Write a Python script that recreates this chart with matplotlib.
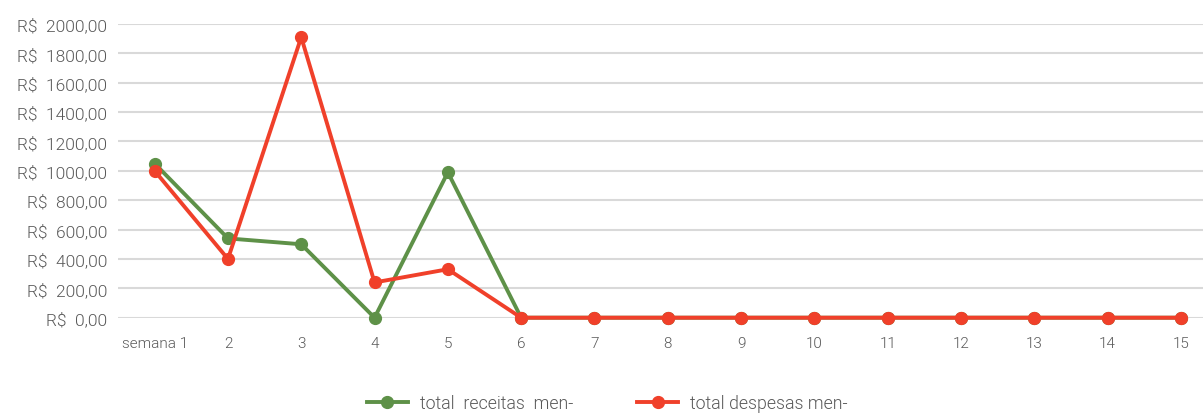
import matplotlib
matplotlib.use("Agg")
import matplotlib.pyplot as plt
from matplotlib.lines import Line2D

# Weekly totals (R$)
weeks = ["semana 1", "2", "3", "4", "5", "6", "7", "8", "9", "10", "11", "12", "13", "14", "15"]
receitas = [1050, 540, 500, 0, 990, 0, 0, 0, 0, 0, 0, 0, 0, 0, 0]
despesas = [1000, 400, 1910, 240, 330, 0, 0, 0, 0, 0, 0, 0, 0, 0, 0]
y_ticks = [0, 200, 400, 600, 800, 1000, 1200, 1400, 1600, 1800, 2000]
series_labels = ["total  receitas  men-", "total despesas men-"]

GREEN = "#5E9148"
RED = "#F0402A"
TEXT = "#595959"
GRID = "#D9D9D9"

plt.rcParams["font.family"] = ["Roboto", "DejaVu Sans"]
plt.rcParams["font.weight"] = 300

W, H = 1203, 414
fig = plt.figure(figsize=(W / 100, H / 100), dpi=100)
left = 118 / W
bottom = (H - 318.7) / H
top = (H - 25) / H
width = 15 * 73.3 / W
ax = fig.add_axes([left, bottom, width, top - bottom])

x = list(range(len(weeks)))
ax.plot(x, receitas, color=GREEN, lw=2.8, marker="o", ms=8.5,
        solid_joinstyle="round", clip_on=False, zorder=3)
ax.plot(x, despesas, color=RED, lw=2.8, marker="o", ms=8.5,
        solid_joinstyle="round", clip_on=False, zorder=4)

ax.set_xlim(-0.5, len(weeks) - 0.5)
ax.set_ylim(0, 2000)
ax.set_yticks(y_ticks)
ax.set_yticklabels([("R$  %.2f" % v).replace(".", ",") for v in y_ticks])
ax.set_xticks(x)
ax.set_xticklabels(weeks)
ax.tick_params(axis="y", length=0, pad=8, labelsize=12.5, labelcolor=TEXT)
ax.tick_params(axis="x", length=0, pad=13.5, labelsize=11, labelcolor=TEXT)
ax.grid(axis="y", color=GRID, lw=1.5)
ax.set_axisbelow(True)
for s in ax.spines.values():
    s.set_visible(False)

handles = [
    Line2D([], [], color=GREEN, lw=2.8, marker="o", ms=8.5),
    Line2D([], [], color=RED, lw=2.8, marker="o", ms=8.5),
]
fig.legend(handles, series_labels, loc="center left",
           bbox_to_anchor=(367 / W, (H - 404) / H),
           ncol=2, frameon=False, prop={"size": 12.8, "weight": 300}, labelcolor=TEXT,
           borderpad=0, borderaxespad=0,
           handlelength=2.3, handletextpad=0.67, columnspacing=3.6)

fig.savefig("out.png", dpi=100)
